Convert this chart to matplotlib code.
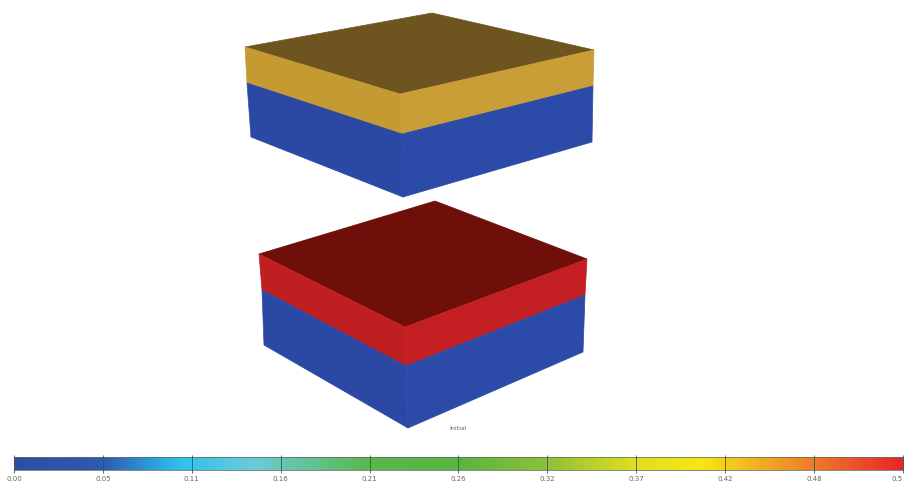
import matplotlib
matplotlib.use('Agg')
import matplotlib.pyplot as plt
import numpy as np
from matplotlib.colors import LinearSegmentedColormap
from matplotlib.patches import Polygon

W, H = 906, 484

# block outlines, in image pixels
top_lid = [(245, 47), (432, 13), (594, 50), (400, 94)]
top_layer_left = [(245, 47), (400, 94), (402, 134), (247, 83)]
top_layer_right = [(400, 94), (594, 50), (593, 86), (402, 134)]
top_base_left = [(247, 83), (402, 134), (403, 197), (251, 137)]
top_base_right = [(402, 134), (593, 86), (592, 142), (403, 197)]

low_lid = [(259, 254), (435, 201), (587, 259), (405, 327)]
low_layer_left = [(259, 254), (405, 327), (406, 366), (262, 290)]
low_layer_right = [(405, 327), (587, 259), (585, 295), (406, 366)]
low_base_left = [(262, 290), (406, 366), (408, 428), (264, 345)]
low_base_right = [(406, 366), (585, 295), (583, 352), (408, 428)]

# colour scale
tick_values = [0.00, 0.053, 0.106, 0.159, 0.212, 0.265, 0.318, 0.371, 0.424, 0.477, 0.53]
tick_labels = ['0.00', '0.05', '0.11', '0.16', '0.21', '0.26', '0.32', '0.37', '0.42', '0.48', '0.5']
stop_pos = [0.0, 0.10, 0.183, 0.27, 0.40, 0.50, 0.60, 0.70, 0.775, 0.88, 1.0]
stop_col = ['#2e4ea3', '#2f5bb0', '#2cc0ee', '#6ccbd8', '#5ab84c', '#58b540',
            '#8fc03a', '#e0df20', '#f8e614', '#f08c28', '#e8262a']

fig = plt.figure(figsize=(W / 100, H / 100), dpi=100)
ax = fig.add_axes([0, 0, 1, 1])
ax.set_xlim(0, W)
ax.set_ylim(H, 0)
ax.axis('off')

faces = [
    (top_lid, '#6e5520'), (top_layer_left, '#c69a33'), (top_layer_right, '#c99e36'),
    (top_base_left, '#2b48a4'), (top_base_right, '#2c4ba8'),
    (low_lid, '#6e0f0a'), (low_layer_left, '#c01f22'), (low_layer_right, '#c41f22'),
    (low_base_left, '#2b48a4'), (low_base_right, '#2c4ba8'),
]
for pts, col in faces:
    ax.add_patch(Polygon(pts, closed=True, facecolor=col, edgecolor=col, linewidth=0.5))

ax.text(458, 428, 'Initial', fontsize=4.5, color='#666666', ha='center', va='center')

# colorbar axes runs a bit above and below the bar so the ticks stick out
x0, x1, y0, y1 = 14, 903, 455, 473
cax = fig.add_axes([x0 / W, 1 - y1 / H, (x1 - x0) / W, (y1 - y0) / H])
cmap = LinearSegmentedColormap.from_list('scale', list(zip(stop_pos, stop_col)))
cax.imshow(np.linspace(0, 1, 512).reshape(1, -1), cmap=cmap, aspect='auto',
           extent=[tick_values[0], tick_values[-1], 0, 13], zorder=1)
cax.plot([tick_values[0], tick_values[-1], tick_values[-1], tick_values[0], tick_values[0]],
         [0, 0, 13, 13, 0], color='#5f6e62', lw=0.7, alpha=0.8, zorder=2, clip_on=False)
cax.vlines(tick_values, -3, 15, color='#3a5550', lw=0.7, alpha=0.85, zorder=3, clip_on=False)
cax.set_xlim(tick_values[0], tick_values[-1])
cax.set_ylim(-3, 15)
cax.set_yticks([])
cax.set_xticks(tick_values)
cax.set_xticklabels(tick_labels, fontsize=5, color='#666666')
cax.tick_params(axis='x', length=0, pad=2.5)
# the last label sits hard against the picture edge
cax.get_xticklabels()[-1].set_ha('right')
for s in cax.spines.values():
    s.set_visible(False)

fig.savefig('out.png', dpi=100)
